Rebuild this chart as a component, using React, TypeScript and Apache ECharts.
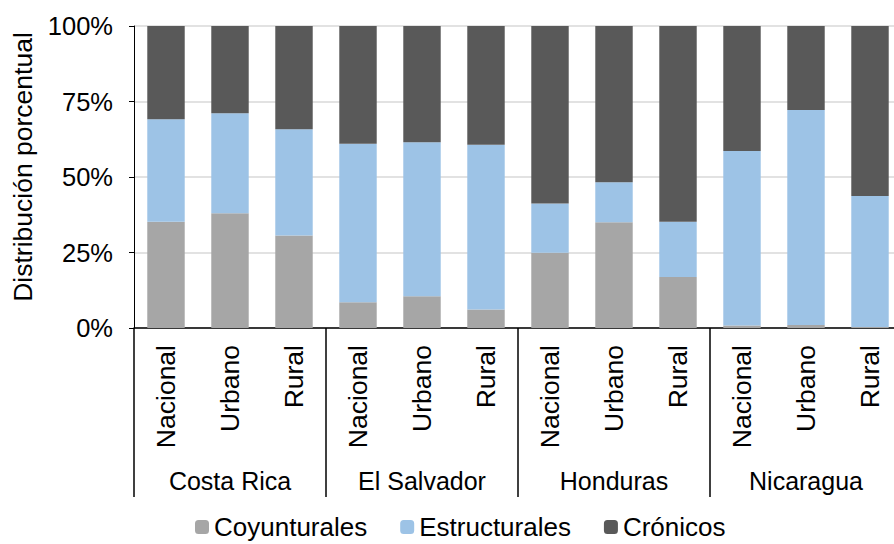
import React, { useEffect, useRef } from "react";
import * as echarts from "echarts";

const categories = [
  "Nacional", "Urbano", "Rural",
  "Nacional", "Urbano", "Rural",
  "Nacional", "Urbano", "Rural",
  "Nacional", "Urbano", "Rural",
];
const countries = ["Costa Rica", "El Salvador", "Honduras", "Nicaragua"];
const coyunturales = [35.2, 38.0, 30.6, 8.5, 10.5, 6.1, 24.9, 35.0, 16.9, 0.8, 1.0, 0.3];
const estructurales = [33.9, 33.1, 35.2, 52.5, 51.0, 54.6, 16.3, 13.3, 18.3, 57.8, 71.2, 43.4];
const cronicos = [30.9, 28.9, 34.2, 39.0, 38.5, 39.3, 58.8, 51.7, 64.8, 41.4, 27.8, 56.3];
const yTicks = [0, 25, 50, 75, 100];

const FONT = "Arial, 'Liberation Sans', sans-serif";

export default function App() {
  const ref = useRef<HTMLDivElement>(null);
  useEffect(() => {
    if (!ref.current) return;
    const chart = echarts.init(ref.current, undefined, { renderer: "svg" });
    chart.setOption({
      animation: false,
      textStyle: { fontFamily: FONT, color: "#000" },
      legend: {
        left: 195,
        top: 514,
        padding: 0,
        itemWidth: 14,
        itemHeight: 14,
        itemGap: 33,
        textStyle: { fontSize: 26, lineHeight: 26, color: "#000", fontFamily: FONT },
        data: ["Coyunturales", "Estructurales", "Crónicos"],
      },
      grid: {
        left: 134,
        top: 26,
        bottom: 216,
        width: 768,
        containLabel: false,
        outerBoundsMode: "none",
      },
      xAxis: [
        {
          type: "category",
          data: categories,
          position: "bottom",
          axisLine: { show: true, lineStyle: { color: "#000", width: 1.5 } },
          axisTick: { show: false },
          axisLabel: {
            rotate: 90,
            margin: 17,
            fontSize: 26.5,
            color: "#000",
            fontFamily: FONT,
            interval: 0,
          },
        },
        {
          type: "category",
          data: countries,
          position: "bottom",
          offset: 169,
          axisLine: { show: false },
          axisTick: {
            show: true,
            inside: true,
            length: 169,
            interval: 0,
            lineStyle: { color: "#000", width: 1.5 },
          },
          axisLabel: {
            inside: true,
            margin: 4,
            fontSize: 25,
            color: "#000",
            fontFamily: FONT,
            interval: 0,
          },
        },
      ],
      yAxis: {
        type: "value",
        min: 0,
        max: 100,
        interval: 25,
        name: "Distribución porcentual",
        nameLocation: "middle",
        nameGap: 96,
        nameTextStyle: { fontSize: 26.5, color: "#000", fontFamily: FONT, padding: [0, 0, 0, 20] },
        axisLine: { show: true, lineStyle: { color: "#000", width: 1 } },
        axisTick: { show: true, length: 5, lineStyle: { color: "#000" } },
        axisLabel: {
          margin: 21,
          fontSize: 25.5,
          color: "#000",
          fontFamily: FONT,
          formatter: (v: number) => (yTicks.includes(v) ? `${v}%` : ""),
        },
        splitLine: { show: true, lineStyle: { color: "#d9d9d9", width: 1.5 } },
      },
      series: [
        {
          name: "Coyunturales",
          type: "bar",
          stack: "total",
          barWidth: "58.5%",
          data: coyunturales,
          itemStyle: { color: "#a6a6a6" },
        },
        {
          name: "Estructurales",
          type: "bar",
          stack: "total",
          data: estructurales,
          itemStyle: { color: "#9dc3e6" },
        },
        {
          name: "Crónicos",
          type: "bar",
          stack: "total",
          data: cronicos,
          itemStyle: { color: "#595959" },
        },
      ],
    });
    return () => chart.dispose();
  }, []);
  return <div ref={ref} style={{ width: 894, height: 544, position: "absolute", left: 0, top: 0 }} />;
}
